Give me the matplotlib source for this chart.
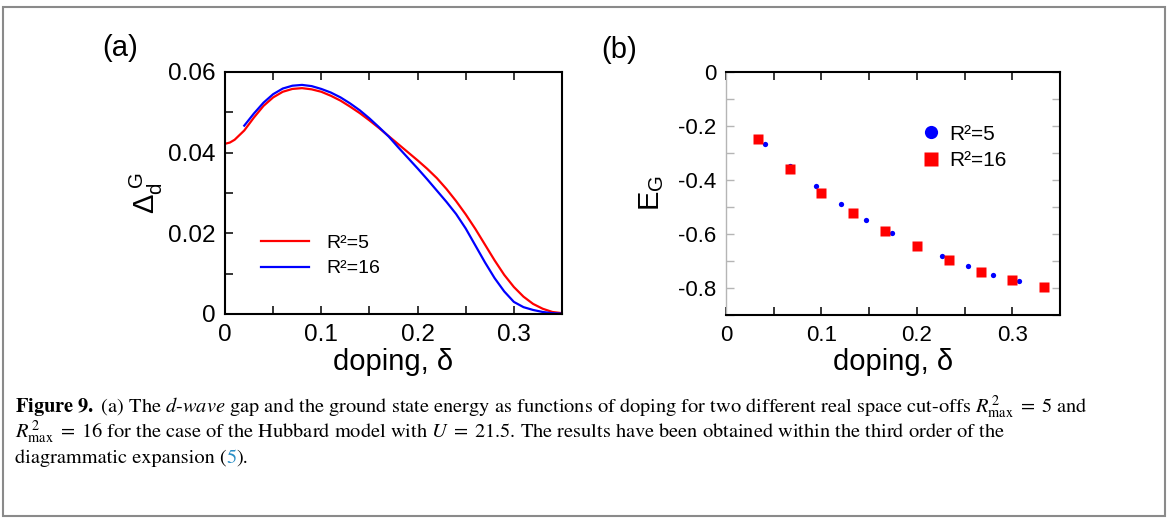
import matplotlib
matplotlib.use("Agg")
import matplotlib.pyplot as plt
from matplotlib.patches import Rectangle
from matplotlib.lines import Line2D
from matplotlib.ticker import MultipleLocator, FuncFormatter

plt.rcParams['font.family'] = ['Liberation Sans', 'DejaVu Sans']
plt.rcParams['axes.unicode_minus'] = False
plt.rcParams['mathtext.fontset'] = 'custom'
plt.rcParams['mathtext.rm'] = 'Liberation Sans'
plt.rcParams['mathtext.it'] = 'Liberation Sans:italic'

# (a) superconducting gap vs doping
dop_r5 = [0, 0.005, 0.01, 0.02, 0.03, 0.04, 0.05, 0.06, 0.07, 0.08, 0.09, 0.10,
          0.11, 0.12, 0.13, 0.14, 0.15, 0.16, 0.17, 0.18, 0.19, 0.20, 0.21, 0.22,
          0.23, 0.24, 0.25, 0.26, 0.27, 0.28, 0.29, 0.30, 0.31, 0.32, 0.33, 0.34, 0.35]
gap_r5 = [0.0422, 0.0425, 0.0432, 0.0455, 0.0487, 0.0516, 0.0537, 0.0551, 0.0558,
          0.0560, 0.0557, 0.0551, 0.0541, 0.0529, 0.0514, 0.0498, 0.0480, 0.0461,
          0.0441, 0.0421, 0.0401, 0.0381, 0.0360, 0.0337, 0.0310, 0.0280, 0.0247,
          0.0211, 0.0172, 0.0133, 0.0097, 0.0067, 0.0043, 0.0025, 0.0013, 0.0005, 0.0002]
dop_r16 = [0.02, 0.03, 0.04, 0.05, 0.06, 0.07, 0.08, 0.09, 0.10, 0.11, 0.12, 0.13,
           0.14, 0.15, 0.16, 0.17, 0.18, 0.19, 0.20, 0.21, 0.22, 0.23, 0.24, 0.25,
           0.26, 0.27, 0.28, 0.29, 0.30, 0.31, 0.32, 0.33, 0.34, 0.35]
gap_r16 = [0.0467, 0.0497, 0.0524, 0.0545, 0.0559, 0.0566, 0.0568, 0.0565, 0.0558,
           0.0549, 0.0537, 0.0522, 0.0505, 0.0485, 0.0463, 0.0440, 0.0413, 0.0387,
           0.0361, 0.0334, 0.0306, 0.0278, 0.0248, 0.0212, 0.0170, 0.0128, 0.0089,
           0.0056, 0.0030, 0.0017, 0.0010, 0.0005, 0.0002, 0.0001]

# (b) ground state energy vs doping
dop_e5 = [0.0406, 0.0667, 0.0938, 0.1205, 0.147, 0.174, 0.2268, 0.254, 0.280, 0.307]
en_e5 = [-0.265, -0.347, -0.424, -0.490, -0.548, -0.598, -0.683, -0.719, -0.750, -0.775]
dop_e16 = [0.0333, 0.0667, 0.1, 0.1333, 0.1667, 0.2, 0.2333, 0.2667, 0.3, 0.3333]
en_e16 = [-0.250, -0.358, -0.447, -0.524, -0.590, -0.646, -0.698, -0.739, -0.772, -0.798]

labels = ['R²=5', 'R²=16']

fig = plt.figure(figsize=(11.68, 5.18), dpi=100)
W, H = 1168, 518

def box(l, t, r, b):
    return [l / W, 1 - b / H, (r - l) / W, (b - t) / H]

fmt = FuncFormatter(lambda v, p: '%g' % round(v, 4))

# ---- panel (a)
ax1 = fig.add_axes(box(225, 72, 562, 314))
ax1.plot(dop_r5, gap_r5, color='#ff0000', lw=1.6, label=labels[0])
ax1.plot(dop_r16, gap_r16, color='#0000ff', lw=1.6, label=labels[1])
ax1.set_xlim(0, 0.35)
ax1.set_ylim(0, 0.06)
ax1.xaxis.set_major_locator(MultipleLocator(0.1))
ax1.xaxis.set_minor_locator(MultipleLocator(0.05))
ax1.yaxis.set_major_locator(MultipleLocator(0.02))
ax1.yaxis.set_minor_locator(MultipleLocator(0.01))
ax1.xaxis.set_major_formatter(fmt)
ax1.yaxis.set_major_formatter(fmt)
ax1.tick_params(which='both', direction='in', length=6, width=1.1, top=True,
                right=False, labelsize=17.5, pad=7)
for s in ax1.spines.values():
    s.set_linewidth(1.5)
ax1.set_xlabel('doping, δ', fontsize=21, labelpad=1.5)
ax1.set_ylabel(r'$\Delta_\mathrm{d}^{\ \mathrm{G}}$', fontsize=21, labelpad=2)
ax1.legend(loc='center left', bbox_to_anchor=(0.107, 0.24), frameon=False,
           fontsize=14, handlelength=2.45, handletextpad=0.9, labelspacing=0.4,
           borderpad=0, borderaxespad=0)
fig.text(120 / W, 1 - 48 / H, '(a)', fontsize=21, ha='center', va='center')

# ---- panel (b)
ax2 = fig.add_axes(box(726, 72, 1060, 315))
ax2.plot(dop_e5, en_e5, 'o', color='#0000ff', ms=3.8, mec='none', zorder=3)
ax2.plot(dop_e16, en_e16, 's', color='#ff0000', ms=6.6, mec='none', zorder=4)
ax2.set_xlim(0, 0.35)
ax2.set_ylim(-0.9, 0)
ax2.xaxis.set_major_locator(MultipleLocator(0.1))
ax2.xaxis.set_minor_locator(MultipleLocator(0.05))
ax2.yaxis.set_major_locator(MultipleLocator(0.2))
ax2.yaxis.set_minor_locator(MultipleLocator(0.1))
ax2.xaxis.set_major_formatter(fmt)
ax2.yaxis.set_major_formatter(fmt)
ax2.tick_params(which='both', direction='in', length=6, width=1.1, top=True,
                right=True, labelsize=16, pad=7)
ax2.tick_params(axis='y', which='both', left=True, color='#b5b5b5', width=1.0)
for s in ax2.spines.values():
    s.set_linewidth(1.5)
ax2.spines['left'].set_color('#b5b5b5')
ax2.spines['left'].set_linewidth(1.0)
ax2.set_xlabel('doping, δ', fontsize=21, labelpad=1.5)
ax2.set_ylabel(r'E$_\mathrm{G}$', fontsize=21, labelpad=9)
handles = [Line2D([], [], ls='none', marker='o', color='#0000ff', ms=9.5, mec='none'),
           Line2D([], [], ls='none', marker='s', color='#ff0000', ms=10, mec='none')]
ax2.legend(handles, labels, loc='center left', bbox_to_anchor=(0.585, 0.69),
           frameon=False, fontsize=15, handlelength=0.9, handletextpad=0.45,
           labelspacing=0.35, borderpad=0, borderaxespad=0)
fig.text(619 / W, 1 - 50 / H, '(b)', fontsize=21, ha='center', va='center')

# ---- frame and caption
fig.add_artist(Rectangle((3 / W, 1 - 516 / H), 1162 / W, 509 / H,
                         transform=fig.transFigure, fill=False,
                         edgecolor='#8a8a8a', lw=1.5))

cap = dict(fontsize=14.7, family='STIXGeneral', math_fontfamily='stix',
           va='baseline', ha='left')
fig.text(15 / W, 1 - 413 / H,
         r'$\mathbf{Figure\ 9.}$ (a) The $d$-$wave$ gap and the ground state energy as '
         r'functions of doping for two different real space cut-offs '
         r'$R^{\,2}_{\mathrm{max}}\;=\;5$ and', **cap)
fig.text(15 / W, 1 - 438 / H,
         r'$R^{\,2}_{\mathrm{max}}\;=\;16$ for the case of the Hubbard model with '
         r'$U\;=\;21.5$. The results have been obtained within the third order of the',
         **cap)

renderer = fig.canvas.get_renderer()
x = 15 / W
for s, col in [('diagrammatic expansion (', 'black'), ('5', '#2b8fc6'), (').', 'black')]:
    t = fig.text(x, 1 - 463 / H, s, color=col, **cap)
    x += t.get_window_extent(renderer).width / W

fig.savefig('out.png', dpi=100)
